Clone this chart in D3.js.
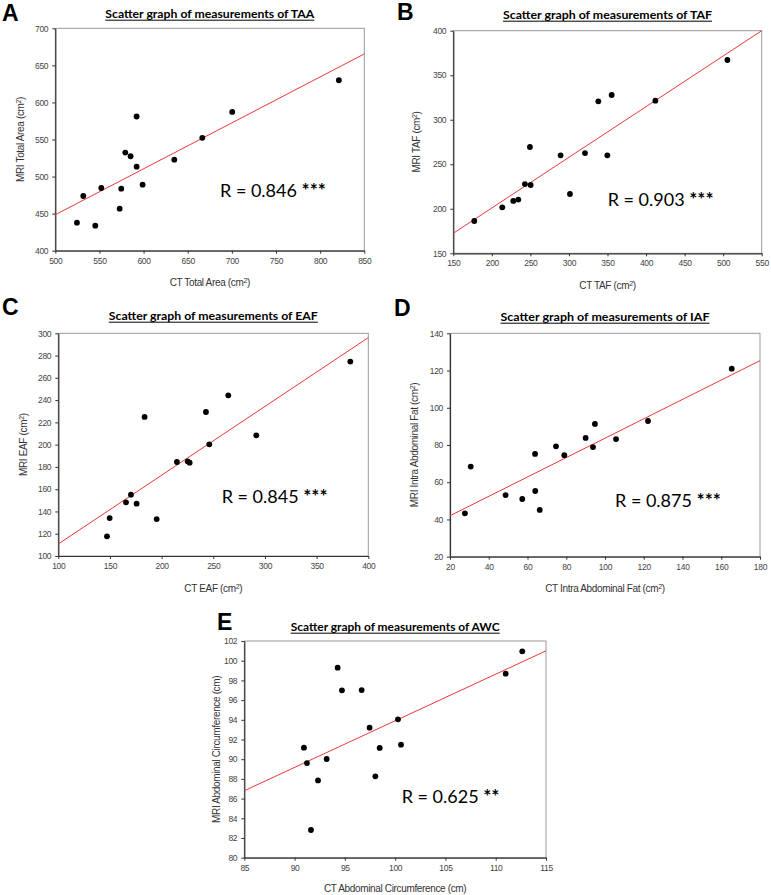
<!DOCTYPE html>
<html>
<head>
<meta charset="utf-8">
<script src="https://cdn.jsdelivr.net/npm/d3@7"></script>
<style>
  html, body { margin: 0; padding: 0; background: #fff; }
  svg { display: block; }
</style>
</head>
<body>
<svg id="chart" width="771" height="895"></svg>
<script>
// ---------------- DATA ----------------
// A: Total abdominal area
const taaCT  = [524.5, 531.7, 545.3, 552.1, 572.9, 574.7, 579.3, 585.3, 592.1, 592.1, 598.9, 634.8, 666.5, 700.4, 821.2];
const taaMRI = [437.8, 473.8, 433.7, 484.6, 456.7, 483.7, 532.3, 527.4, 513.4, 581.0, 489.0, 522.8, 552.3, 587.2, 629.9];
const taaFitX = [500, 850];
const taaFitY = [448.5, 665.4];
const taaXTicks = [500, 550, 600, 650, 700, 750, 800, 850];
const taaYTicks = [400, 450, 500, 550, 600, 650, 700];

// B: Total abdominal fat
const tafCT  = [177.2, 213.5, 227.8, 234.3, 242.9, 250.3, 249.4, 289.2, 301.3, 320.8, 338.1, 349.8, 355.4, 412.1, 505.5];
const tafMRI = [186.3, 201.6, 208.8, 210.3, 227.8, 226.7, 269.4, 260.0, 216.6, 262.6, 320.7, 260.0, 327.8, 321.4, 367.1];
const tafFitX = [150, 550];
const tafFitY = [172.5, 400];
const tafXTicks = [150, 200, 250, 300, 350, 400, 450, 500, 550];
const tafYTicks = [150, 200, 250, 300, 350, 400];

// C: Extra-abdominal fat
const eafCT  = [147.1, 149.7, 165.5, 170.3, 175.8, 183.5, 195.2, 214.8, 225.2, 227.1, 242.9, 246.1, 264.5, 291.6, 382.6];
const eafMRI = [117.7, 134.1, 148.2, 155.1, 147.0, 224.9, 133.2, 184.4, 185.0, 183.8, 229.3, 200.3, 244.3, 208.4, 274.6];
const eafFitX = [100, 400];
const eafFitY = [110.8, 296.1];
const eafXTicks = [100, 150, 200, 250, 300, 350, 400];
const eafYTicks = [100, 120, 140, 160, 180, 200, 220, 240, 260, 280, 300];

// D: Intra-abdominal fat
const iafCT  = [27.7, 30.7, 48.7, 57.3, 63.9, 64.0, 66.3, 74.7, 79.0, 90.0, 93.8, 94.8, 105.7, 122.2, 165.4];
const iafMRI = [43.3, 68.4, 53.1, 51.0, 75.2, 55.3, 45.1, 79.3, 74.5, 83.8, 78.9, 91.3, 83.2, 92.9, 121.0];
const iafFitX = [20, 180];
const iafFitY = [42.0, 125.3];
const iafXTicks = [20, 40, 60, 80, 100, 120, 140, 160, 180];
const iafYTicks = [20, 40, 60, 80, 100, 120, 140];

// E: Abdominal wall circumference
const awcCT  = [90.93, 91.23, 91.63, 92.33, 93.19, 94.28, 94.71, 96.67, 97.46, 98.03, 98.46, 100.28, 100.58, 110.99, 112.64];
const awcMRI = [91.17, 89.61, 82.81, 87.85, 90.02, 99.29, 96.99, 97.02, 93.20, 88.26, 91.14, 94.05, 91.47, 98.68, 100.95];
const awcFitX = [85, 115];
const awcFitY = [86.8, 101.0];
const awcXTicks = [85, 90, 95, 100, 105, 110, 115];
const awcYTicks = [80, 82, 84, 86, 88, 90, 92, 94, 96, 98, 100, 102];

const panelLetters = ["A", "B", "C", "D", "E"];
const panelTitles = [
  "Scatter graph of measurements of TAA",
  "Scatter graph of measurements of TAF",
  "Scatter graph of measurements of EAF",
  "Scatter graph of measurements of IAF",
  "Scatter graph of measurements of AWC"
];
const xLabels = [
  ["CT Total Area (cm", "2", ")"],
  ["CT TAF (cm", "2", ")"],
  ["CT EAF (cm", "2", ")"],
  ["CT Intra Abdominal Fat (cm", "2", ")"],
  ["CT Abdominal Circumference (cm)", "", ""]
];
const yLabels = [
  ["MRI Total Area (cm", "2", ")"],
  ["MRI TAF (cm", "2", ")"],
  ["MRI EAF (cm", "2", ")"],
  ["MRI Intra Abdominal Fat (cm", "2", ")"],
  ["MRI Abdominal Circumference (cm)", "", ""]
];
const rValues = ["R = 0.846", "R = 0.903", "R = 0.845", "R = 0.875", "R = 0.625"];
const rStars  = ["***", "***", "***", "***", "**"];

// ---------------- LAYOUT ----------------
const layout = [
  { x0: 55.3,  x1: 364.3, y0: 28.3,  y1: 250.7, letterX: 2,   letterY: 21,  titleY: 18,  rdx: 164.7, rdy: 168.7, ylOff: 35,   xlOff: 35.5 },
  { x0: 453.3, x1: 761.7, y0: 30.7,  y1: 253.3, letterX: 397, letterY: 20,  titleY: 19,  rdx: 154.4, rdy: 175.3, ylOff: 36.6, xlOff: 35.5 },
  { x0: 58.3,  x1: 368.3, y0: 333.3, y1: 556,   letterX: 2,   letterY: 315, titleY: 320, rdx: 163.4, rdy: 170,   ylOff: 35,   xlOff: 35.5 },
  { x0: 450,   x1: 760,   y0: 333.3, y1: 556.7, letterX: 394, letterY: 316, titleY: 321, rdx: 165,   rdy: 173.4, ylOff: 35.7, xlOff: 35 },
  { x0: 244.3, x1: 546,   y0: 641,   y1: 857.7, letterX: 217, letterY: 630, titleY: 631, rdx: 157.4, rdy: 161.7, ylOff: 27.6, xlOff: 34 }
];

const panels = [
  { ct: taaCT, mri: taaMRI, fx: taaFitX, fy: taaFitY, xt: taaXTicks, yt: taaYTicks },
  { ct: tafCT, mri: tafMRI, fx: tafFitX, fy: tafFitY, xt: tafXTicks, yt: tafYTicks },
  { ct: eafCT, mri: eafMRI, fx: eafFitX, fy: eafFitY, xt: eafXTicks, yt: eafYTicks },
  { ct: iafCT, mri: iafMRI, fx: iafFitX, fy: iafFitY, xt: iafXTicks, yt: iafYTicks },
  { ct: awcCT, mri: awcMRI, fx: awcFitX, fy: awcFitY, xt: awcXTicks, yt: awcYTicks }
];

const svg = d3.select("#chart");
const tickFont = "'Liberation Sans', Arial, sans-serif";
const titleFont = "Lato, 'Open Sans', sans-serif";

function addLabel(sel, parts) {
  sel.append("tspan").text(parts[0]);
  if (parts[1]) {
    sel.append("tspan").attr("baseline-shift", "super").attr("font-size", "7px").text(parts[1]);
    sel.append("tspan").text(parts[2]);
  }
}

panels.forEach((p, i) => {
  const L = layout[i];
  const xs = d3.scaleLinear().domain(d3.extent(p.xt)).range([L.x0, L.x1]);
  const ys = d3.scaleLinear().domain(d3.extent(p.yt)).range([L.y1, L.y0]);
  const g = svg.append("g");
  const cx = (L.x0 + L.x1) / 2;
  const cy = (L.y0 + L.y1) / 2;

  // frame (top/right lighter)
  g.append("rect")
    .attr("x", L.x0).attr("y", L.y0)
    .attr("width", L.x1 - L.x0).attr("height", L.y1 - L.y0)
    .attr("fill", "none").attr("stroke", "#9a9a9a").attr("stroke-width", 1);

  // axes
  const xAxis = d3.axisBottom(xs).tickValues(p.xt).tickSizeInner(3).tickSizeOuter(0).tickPadding(4);
  const yAxis = d3.axisLeft(ys).tickValues(p.yt).tickSizeInner(3).tickSizeOuter(0).tickPadding(4);
  const gx = g.append("g").attr("transform", `translate(0,${L.y1})`).call(xAxis);
  const gy = g.append("g").attr("transform", `translate(${L.x0},0)`).call(yAxis);
  [gx, gy].forEach(a => {
    a.select(".domain").attr("stroke", "#333").attr("stroke-width", 1.2);
    a.selectAll(".tick line").attr("stroke", "#333");
    a.selectAll(".tick text").attr("fill", "#444").attr("font-family", tickFont)
      .attr("font-size", "8.5px").attr("letter-spacing", "-0.3px");
  });

  // regression line
  const line = d3.line().x(d => xs(d[0])).y(d => ys(d[1]));
  g.append("path")
    .datum(p.fx.map((v, k) => [v, p.fy[k]]))
    .attr("d", line)
    .attr("fill", "none").attr("stroke", "#e8393a").attr("stroke-width", 1);

  // points
  g.selectAll("circle.pt").data(p.ct.map((v, k) => [v, p.mri[k]]))
    .join("circle").attr("class", "pt")
    .attr("cx", d => xs(d[0])).attr("cy", d => ys(d[1]))
    .attr("r", 2.9).attr("fill", "#000");

  // title
  const tw = 209;
  g.append("text")
    .attr("x", cx).attr("y", L.titleY)
    .attr("text-anchor", "middle")
    .attr("font-family", titleFont).attr("font-weight", 700).attr("font-size", "11.5px")
    .attr("textLength", tw).attr("lengthAdjust", "spacingAndGlyphs")
    .attr("fill", "#000")
    .text(panelTitles[i]);
  g.append("line")
    .attr("x1", cx - tw / 2).attr("x2", cx + tw / 2)
    .attr("y1", L.titleY + 2.2).attr("y2", L.titleY + 2.2)
    .attr("stroke", "#000").attr("stroke-width", 1);

  // panel letter
  g.append("text")
    .attr("x", L.letterX).attr("y", L.letterY)
    .attr("font-family", "'Liberation Sans', Arial, sans-serif").attr("font-weight", 700)
    .attr("font-size", "23px").attr("fill", "#000")
    .text(panelLetters[i]);

  // R annotation
  const rt = g.append("text")
    .attr("x", L.x0 + L.rdx).attr("y", L.y0 + L.rdy)
    .attr("font-family", titleFont).attr("font-size", "18px")
    .attr("fill", "#000");
  rt.append("tspan").text(rValues[i] + " ");
  rt.append("tspan").attr("font-weight", 700).attr("font-size", "19px").text(rStars[i]);

  // x axis label
  const xl = g.append("text")
    .attr("x", cx).attr("y", L.y1 + L.xlOff)
    .attr("text-anchor", "middle")
    .attr("font-family", tickFont).attr("font-size", "10px").attr("letter-spacing", "-0.35px")
    .attr("fill", "#333");
  addLabel(xl, xLabels[i]);

  // y axis label
  const yl = g.append("text")
    .attr("transform", `translate(${L.x0 - L.ylOff + 3.5},${cy}) rotate(-90)`)
    .attr("text-anchor", "middle")
    .attr("font-family", tickFont).attr("font-size", "10px").attr("letter-spacing", "-0.35px")
    .attr("fill", "#333");
  addLabel(yl, yLabels[i]);
});
</script>
</body>
</html>
